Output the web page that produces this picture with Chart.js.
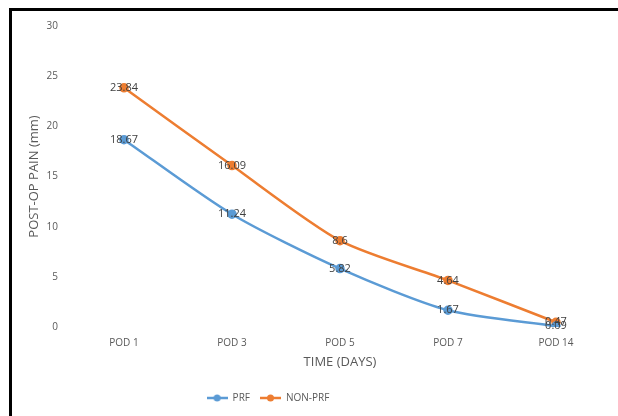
<!DOCTYPE html>
<html>
<head>
<meta charset="utf-8">
<script src="https://cdn.jsdelivr.net/npm/chart.js@4"></script>
<style>
  body{margin:0;background:#fff;}
  #frame{position:absolute;left:9px;top:8px;width:606px;height:405px;border-left:3px solid #000;border-top:3px solid #000;}
</style>
</head>
<body>
<div id="frame"><canvas id="myChart" width="606" height="405"></canvas></div>
<script>
const days=["POD 1","POD 3","POD 5","POD 7","POD 14"];
const prf=[18.67,11.24,5.82,1.67,0.09];
const nonPrf=[23.84,16.09,8.6,4.64,0.47];
const yTicks=[0,5,10,15,20,25,30];

const blue="#5B9BD5";
const orange="#ED7D31";
const grey="#595959";
const font="'Open Sans',sans-serif";

// legend marker: short line with a dot in the middle
function legendMark(color){
  const c=document.createElement("canvas");
  c.width=21;c.height=8;
  const g=c.getContext("2d");
  g.strokeStyle=color;g.lineWidth=2.5;
  g.beginPath();g.moveTo(0,4);g.lineTo(21,4);g.stroke();
  g.fillStyle=color;
  g.beginPath();g.arc(10.5,4,3.5,0,Math.PI*2);g.fill();
  return c;
}
const marks={PRF:legendMark(blue),"NON-PRF":legendMark(orange)};

// values written on top of each point
const pointLabels={
  id:"pointLabels",
  afterLayout(chart){
    // legend sits a bit left of centre in the original
    chart.legend.left-=43;
    chart.legend.right-=43;
  },
  afterDatasetsDraw(chart){
    const ctx=chart.ctx;
    ctx.save();
    ctx.font="11px "+font;
    ctx.fillStyle="#404040";
    ctx.textAlign="center";
    ctx.textBaseline="middle";
    chart.data.datasets.forEach((ds,i)=>{
      chart.getDatasetMeta(i).data.forEach((pt,j)=>{
        ctx.fillText(String(ds.data[j]),pt.x,pt.y);
      });
    });
    ctx.restore();
  }
};

new Chart(document.getElementById("myChart"),{
  type:"line",
  data:{
    labels:days,
    datasets:[
      {label:"PRF",data:prf,borderColor:blue,backgroundColor:blue,borderWidth:2.5,pointRadius:3.5,pointStyle:"circle",tension:0.25},
      {label:"NON-PRF",data:nonPrf,borderColor:orange,backgroundColor:orange,borderWidth:2.5,pointRadius:3.5,pointStyle:"circle",tension:0.25}
    ]
  },
  options:{
    responsive:false,
    animation:false,
    layout:{padding:{top:15,right:8,bottom:3,left:0}},
    plugins:{
      tooltip:{enabled:false},
      legend:{
        position:"bottom",
        labels:{
          usePointStyle:true,
          pointStyleWidth:21,
          color:grey,
          font:{family:font,size:10},
          padding:10,
          generateLabels(chart){
            return chart.data.datasets.map((ds,i)=>({
              text:ds.label,
              pointStyle:marks[ds.label],
              fillStyle:ds.borderColor,
              strokeStyle:ds.borderColor,
              fontColor:grey,
              lineWidth:0,
              datasetIndex:i
            }));
          }
        }
      }
    },
    scales:{
      x:{
        offset:true,
        grid:{display:false},
        border:{display:false},
        ticks:{color:grey,font:{family:font,size:10},padding:2},
        title:{display:true,text:"TIME (DAYS)",color:grey,font:{family:font,size:13},padding:{top:0,bottom:13}},
        afterFit(s){s.height=56;}
      },
      y:{
        min:0,max:30,
        grid:{display:false},
        border:{display:false},
        afterBuildTicks(s){s.ticks=yTicks.map(v=>({value:v}));},
        ticks:{color:grey,font:{family:font,size:10},padding:4},
        title:{display:true,text:"POST-OP PAIN (mm)",color:grey,font:{family:font,size:13},padding:{top:14,bottom:0}},
        afterFit(s){s.width=58;}
      }
    }
  },
  plugins:[pointLabels]
});
</script>
</body>
</html>
